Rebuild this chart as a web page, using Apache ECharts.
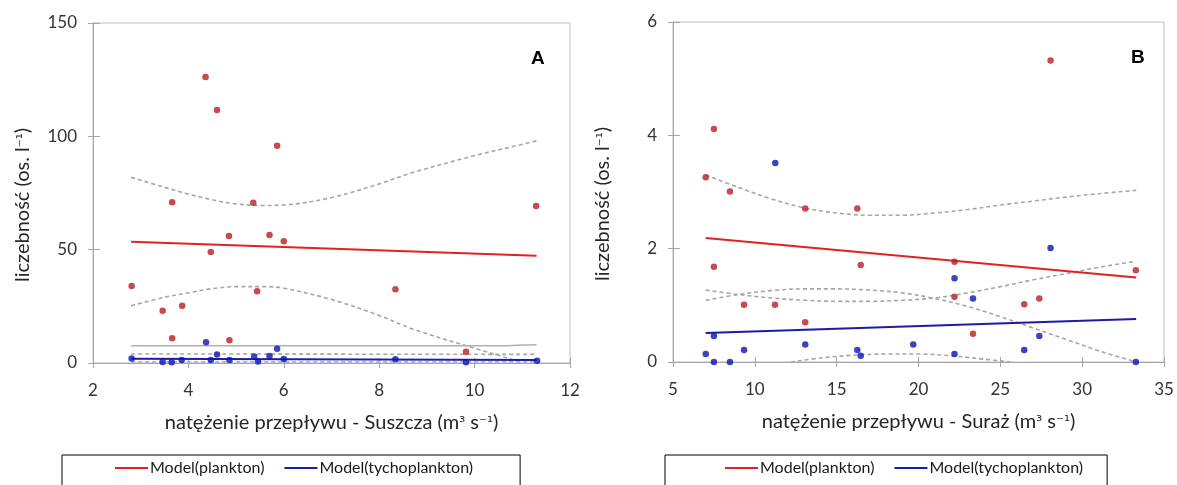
<!DOCTYPE html>
<html>
<head>
<meta charset="utf-8">
<script src="https://cdn.jsdelivr.net/npm/echarts@6/dist/echarts.min.js"></script>
<style>
html,body{margin:0;padding:0;background:#fff;}
#chart{width:1177px;height:485px;}
</style>
</head>
<body>
<div id="chart"></div>
<script>
// ---------- Panel A (Suszcza) ----------
const aPlanktonX = [2.81,3.46,3.66,3.66,3.87,4.36,4.47,4.60,4.85,4.86,5.36,5.44,5.70,5.86,6.00,8.34,9.82,11.29];
const aPlanktonY = [34.0,23.1,70.9,10.9,25.3,126.2,49.0,111.6,56.0,10.0,70.7,31.6,56.5,95.9,53.7,32.5,5.0,69.3];
const aTychoX = [2.81,3.46,3.65,3.86,4.37,4.47,4.60,4.86,5.38,5.46,5.70,5.86,6.00,8.34,9.82,11.31];
const aTychoY = [2.0,0.4,0.3,1.3,9.1,1.3,3.8,1.3,2.9,0.7,3.1,6.3,1.8,1.6,0.3,1.0];
const aModelX = [2.8, 11.3];
const aPlanktonModel = [53.5, 47.3];
const aTychoModel = [1.9, 1.3];
const aCiX = [2.8,3.5,4,4.5,5,5.6,6,7,8,8.7,10,10.7,11.3];
const aPlanktonUpper = [81.9,77.5,74.5,72,70.2,69.5,69.7,73,79,84,91.5,95,98];
const aPlanktonLower = [25.3,29,31,32.8,33.7,33.7,33,28,21,15,6.5,2.1,-2.5];
const aTychoBandX = [2.8,10.5,11.0,11.3];
const aTychoUpper = [7.6,7.6,7.9,8.0];
const aTychoMidX = [2.8,11.3];
const aTychoMid = [4.0,3.8];
const aTychoLow = [0.5,0.5];
const aXTicks = {min:2, max:12, interval:2};
const aYTicks = {min:0, max:150, interval:50};

// ---------- Panel B (Suraż) ----------
const bPlanktonX = [7.0,7.5,8.48,13.08,16.26,7.5,16.47,9.34,11.23,13.08,28.07,22.2,22.2,23.33,26.46,27.38,33.28];
const bPlanktonY = [3.26,4.11,3.01,2.71,2.71,1.68,1.71,1.01,1.01,0.70,5.32,1.77,1.15,0.50,1.02,1.12,1.62];
const bTychoX = [11.25,7.5,7.0,7.5,8.48,9.34,13.08,16.26,16.47,19.68,22.2,22.2,23.33,26.46,27.38,28.07,33.28];
const bTychoY = [3.51,0.46,0.14,0.0,0.0,0.21,0.31,0.21,0.11,0.31,1.48,0.14,1.12,0.21,0.46,2.01,0.0];
const bModelX = [7.0, 33.3];
const bPlanktonModel = [2.19, 1.49];
const bTychoModel = [0.51, 0.76];
const bCiX = [7,9,11,13,15,17,19,21,23,25,27,29,31,33.3];
const bPlanktonUpper = [3.30,3.08,2.88,2.72,2.63,2.59,2.59,2.63,2.69,2.77,2.84,2.91,2.97,3.03];
const bPlanktonLower = [1.09,1.19,1.26,1.29,1.29,1.27,1.22,1.12,0.98,0.80,0.60,0.40,0.20,0.0];
const bTychoUpper = [1.27,1.19,1.13,1.09,1.07,1.07,1.09,1.13,1.22,1.33,1.45,1.56,1.67,1.78];
const bTychoLowX = [12.2,14,16,18,20,22,24,25.6];
const bTychoLow = [0,0.07,0.12,0.14,0.14,0.11,0.05,0];
const bXTicks = {min:5, max:35, interval:5};
const bYTicks = {min:0, max:6, interval:2};

const legendNames = ['Model(plankton)','Model(tychoplankton)'];
const yName = '{t|liczebność (os. l}{s|⁻¹}{t|)}';
const xNameA = '{t|natężenie przepływu - Suszcza (m}{s|³}{t| s}{s|⁻¹}{t|)}';
const xNameB = '{t|natężenie przepływu - Suraż (m}{s|³}{t| s}{s|⁻¹}{t|)}';

// ---------- styles ----------
const FONT = 'Lato';
const RED_LINE = '#E02222', RED_PT = '#B81D24';
const BLUE_LINE = '#1C1CA6', BLUE_PT = '#0A14B4';
const GRAY = '#A6A6A6', AXIS = '#A6A6A6', TXT = '#333333';
const NAME_RICH = {
  t: {fontSize: 20, fontFamily: FONT, color: '#262626'},
  s: {fontSize: 15, fontFamily: 'DejaVu Sans', color: '#262626'}
};

const zip = (xs, ys) => xs.map((x, i) => [x, ys[i]]);

function curve(name, gi, xs, ys, color, dashed, smooth, width) {
  return {
    name: name, type: 'line', xAxisIndex: gi, yAxisIndex: gi,
    data: zip(xs, ys), symbol: 'none', smooth: smooth ? 0.35 : false,
    clip: true, silent: true, z: 2,
    lineStyle: {color: color, width: width || 1.6, type: dashed ? [4, 3] : 'solid'},
    itemStyle: {color: color}
  };
}
function pts(name, gi, xs, ys, color) {
  return {
    name: name, type: 'scatter', xAxisIndex: gi, yAxisIndex: gi,
    data: zip(xs, ys), symbol: 'circle', symbolSize: 6.5, z: 5,
    itemStyle: {color: color}
  };
}

function mainX(gi, t, name) {
  return {
    type: 'value', gridIndex: gi, min: t.min, max: t.max, interval: t.interval,
    axisLine: {show: true, lineStyle: {color: AXIS, width: 1}},
    axisTick: {show: true, inside: false, length: 5, lineStyle: {color: AXIS}},
    axisLabel: {margin: 19, fontSize: 17, color: TXT, fontFamily: FONT},
    splitLine: {show: false},
    name: name, nameLocation: 'middle', nameGap: 50,
    nameTextStyle: {rich: NAME_RICH}
  };
}
function innerX(gi, t) {
  return {
    type: 'value', gridIndex: gi, min: t.min, max: t.max, interval: t.interval, position: 'bottom',
    axisLine: {show: false}, axisTick: {show: true, inside: true, length: 5, lineStyle: {color: AXIS}},
    axisLabel: {show: false}, splitLine: {show: false}
  };
}
function mainY(gi, t) {
  return {
    type: 'value', gridIndex: gi, min: t.min, max: t.max, interval: t.interval,
    axisLine: {show: true, lineStyle: {color: AXIS, width: 1}},
    axisTick: {show: true, inside: false, length: 5, lineStyle: {color: AXIS}},
    axisLabel: {margin: 16, fontSize: 17, color: TXT, fontFamily: FONT},
    splitLine: {show: false},
    name: yName, nameLocation: 'middle', nameGap: 60,
    nameTextStyle: {rich: NAME_RICH, padding: [0, 24, 0, 0]}
  };
}
function innerY(gi, t) {
  return {
    type: 'value', gridIndex: gi, min: t.min, max: t.max, interval: t.interval, position: 'left',
    axisLine: {show: false}, axisTick: {show: true, inside: true, length: 7, lineStyle: {color: AXIS}},
    axisLabel: {show: false}, splitLine: {show: false}
  };
}
function legend(left, padL, padR) {
  return {
    data: legendNames.map(n => ({name: n, icon: 'rect'})),
    left: left, top: 455, orient: 'horizontal',
    itemWidth: 33, itemHeight: 2, itemGap: 20,
    padding: [5, padR, 14, padL],
    borderColor: '#000', borderWidth: 1, selectedMode: false,
    textStyle: {fontSize: 16, color: '#1a1a1a', fontFamily: FONT, padding: [0, 0, 0, -3]}
  };
}

const option = {
  animation: false,
  backgroundColor: '#fff',
  title: [
    {text: 'A', left: 526, top: 44, textStyle: {fontFamily: 'Liberation Sans', fontWeight: 'bold', fontSize: 19, color: '#000'}},
    {text: 'B', left: 1126, top: 43, textStyle: {fontFamily: 'Liberation Sans', fontWeight: 'bold', fontSize: 19, color: '#000'}}
  ],
  grid: [
    {left: 93, top: 23, width: 477, height: 340, show: true, borderColor: '#BFBFBF', borderWidth: 1, backgroundColor: 'transparent'},
    {left: 673, top: 22, width: 491, height: 340, show: true, borderColor: '#BFBFBF', borderWidth: 1, backgroundColor: 'transparent'}
  ],
  xAxis: [mainX(0, aXTicks, xNameA), mainX(1, bXTicks, xNameB), innerX(0, aXTicks), innerX(1, bXTicks)],
  yAxis: [mainY(0, aYTicks), mainY(1, bYTicks), innerY(0, aYTicks), innerY(1, bYTicks)],
  legend: [legend(62, 53, 47), legend(665, 60, 24)],
  series: [
    // Panel A
    curve('a-pu', 0, aCiX, aPlanktonUpper, GRAY, true, true),
    curve('a-pl', 0, aCiX, aPlanktonLower, GRAY, true, true),
    curve('a-tu', 0, aTychoBandX, aTychoUpper, '#B0B0B0', false, true, 1.5),
    curve('a-tm', 0, aTychoMidX, aTychoMid, GRAY, true, false),
    curve('a-tl', 0, aTychoMidX, aTychoLow, '#A9B0D8', true, false),
    curve('Model(plankton)', 0, aModelX, aPlanktonModel, RED_LINE, false, false, 2),
    curve('Model(tychoplankton)', 0, aModelX, aTychoModel, BLUE_LINE, false, false, 2),
    pts('a-pts-p', 0, aPlanktonX, aPlanktonY, RED_PT),
    pts('a-pts-t', 0, aTychoX, aTychoY, BLUE_PT),
    // Panel B
    curve('b-pu', 1, bCiX, bPlanktonUpper, GRAY, true, true),
    curve('b-pl', 1, bCiX, bPlanktonLower, GRAY, true, true),
    curve('b-tu', 1, bCiX, bTychoUpper, GRAY, true, true),
    curve('b-tl', 1, bTychoLowX, bTychoLow, GRAY, true, true),
    curve('Model(plankton)', 1, bModelX, bPlanktonModel, RED_LINE, false, false, 2),
    curve('Model(tychoplankton)', 1, bModelX, bTychoModel, BLUE_LINE, false, false, 2),
    pts('b-pts-p', 1, bPlanktonX, bPlanktonY, RED_PT),
    pts('b-pts-t', 1, bTychoX, bTychoY, BLUE_PT)
  ]
};

const chart = echarts.init(document.getElementById('chart'), null, {renderer: 'canvas'});
chart.setOption(option);
</script>
</body>
</html>
